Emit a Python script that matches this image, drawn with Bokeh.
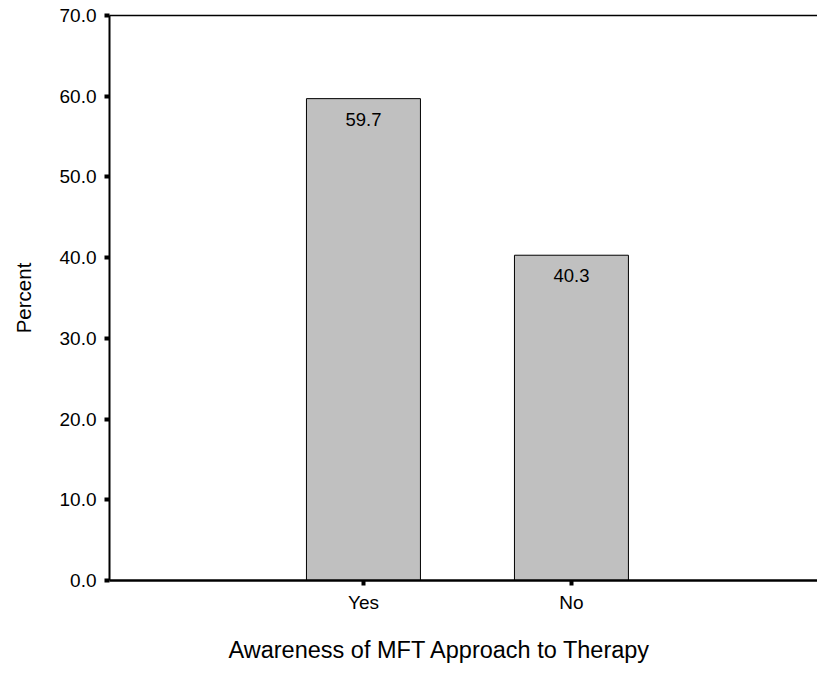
from bokeh.plotting import figure
from bokeh.models import ColumnDataSource, FixedTicker, LinearAxis, Range1d, Title
from bokeh.core.properties import value
from bokeh.embed import file_html
from bokeh.resources import INLINE

categories = ["Yes", "No"]
percent = [59.7, 40.3]
y_ticks = [0, 10, 20, 30, 40, 50, 60, 70]
x_title = "Awareness of MFT Approach to Therapy"
y_title = "Percent"

xs = [i + 1 for i in range(len(categories))]
labels = ["%.1f" % v for v in percent]
src = ColumnDataSource(dict(x=xs, top=percent, label=labels))

FONT = "Liberation Sans"

p = figure(width=817, height=683, output_backend="svg", toolbar_location=None,
           x_range=Range1d(-0.221, 3.183), y_range=Range1d(0, 70),
           min_border_left=109, min_border_right=0, min_border_top=15, min_border_bottom=103)
p.outline_line_color = None
p.background_fill_color = "white"
p.border_fill_color = "white"
p.grid.visible = False

p.vbar(x="x", top="top", bottom=0, width=0.548, source=src,
       fill_color="#c0c0c0", line_color="black", line_width=1)
p.text(x="x", y="top", text="label", source=src, text_align="center",
       text_baseline="top", y_offset=14, text_font=value(FONT),
       text_font_size="18.5px", text_color="black")

# y axis
ya = p.yaxis[0]
ya.ticker = FixedTicker(ticks=y_ticks)
ya.major_label_overrides = {t: "%.1f" % t for t in y_ticks}
ya.axis_label = y_title
ya.axis_label_text_font = FONT
ya.axis_label_text_font_style = "normal"
ya.axis_label_text_font_size = "20.5px"
ya.axis_label_text_color = "black"
ya.axis_label_standoff = 22
ya.major_label_text_font = FONT
ya.major_label_text_font_size = "19px"
ya.major_label_text_color = "black"
ya.major_label_standoff = 8
ya.axis_line_width = 2
ya.major_tick_line_width = 4
ya.major_tick_out = 5
ya.major_tick_in = 0
ya.minor_tick_line_color = None

# x axis
xa = p.xaxis[0]
xa.ticker = FixedTicker(ticks=xs)
xa.major_label_overrides = {x: c for x, c in zip(xs, categories)}
xa.major_label_text_font = FONT
xa.major_label_text_font_size = "19px"
xa.major_label_text_color = "black"
xa.major_label_standoff = 6
xa.axis_line_width = 2.5
xa.major_tick_line_width = 4
xa.major_tick_out = 5
xa.major_tick_in = 0
xa.minor_tick_line_color = None

p.add_layout(Title(text=x_title, align="left", offset=119, standoff=38,
                   text_font=FONT, text_font_style="normal",
                   text_font_size="23.5px", text_color="black"), "below")

# top line
top = LinearAxis(major_tick_line_color=None, minor_tick_line_color=None,
                 major_label_text_font_size="0px", axis_line_width=1.5)
top.ticker = FixedTicker(ticks=[])
p.add_layout(top, "above")

open("out.html", "w").write(file_html(p, INLINE))
